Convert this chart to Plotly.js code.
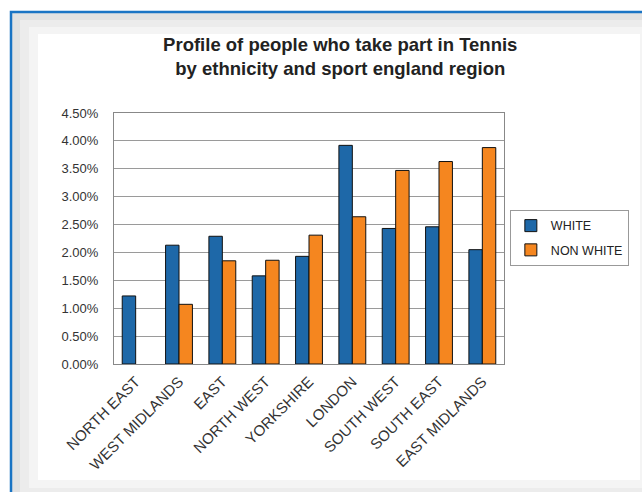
<!DOCTYPE html>
<html><head><meta charset="utf-8">
<script src="https://cdn.plot.ly/plotly-3.0.1.min.js"></script>
<style>body{margin:0;padding:0;background:#fff}#chart{width:642px;height:492px}</style>
</head><body><div id="chart"></div>
<script>
var regions = ["NORTH EAST","WEST MIDLANDS","EAST","NORTH WEST","YORKSHIRE","LONDON","SOUTH WEST","SOUTH EAST","EAST MIDLANDS"];
var white = [0.0122,0.0213,0.0229,0.0158,0.0193,0.0392,0.0243,0.0246,0.0205];
var nonWhite = [null,0.0107,0.0185,0.0186,0.0231,0.0264,0.0347,0.0363,0.0388];
var yTicks = [0,0.005,0.01,0.015,0.02,0.025,0.03,0.035,0.04,0.045];

// frame helper: pixel box -> paper coords (plot area: x 114..504, y 113..364)
function px(x){return (x-114)/390;}
function py(y){return (364-y)/251;}
function box(x0,y0,x1,y1,fill,line){
  return {type:'rect', xref:'paper', yref:'paper', x0:px(x0), x1:px(x1), y0:py(y1), y1:py(y0),
          fillcolor:fill, line:line||{width:0}, layer:'below'};
}

var traces = [
 {type:'bar', name:'WHITE', legendgroup:'a', x:regions, y:white, marker:{color:'#1e68a8', line:{color:'#111', width:1}}},
 {type:'bar', name:'NON WHITE', legendgroup:'b', x:regions, y:nonWhite, marker:{color:'#f5861f', line:{color:'#111', width:1}}}
];
var layout = {
 width:642, height:492,
 paper_bgcolor:'#ffffff', plot_bgcolor:'#ffffff',
 margin:{l:114, r:138, t:113, b:128, autoexpand:false},
 font:{family:'Liberation Sans, Arial, sans-serif', color:'#222', size:13},
 title:{text:'<b>Profile of people who take part in Tennis<br>by ethnicity and sport england region</b>', font:{size:18.5, color:'#222'}, x:0.53, xanchor:'center', y:0.897, yanchor:'middle'},
 barmode:'group', bargap:0.38, bargroupgap:0,
 xaxis:{type:'category', tickangle:-45, tickfont:{size:15, color:'#333'}, showgrid:false, showline:true, linecolor:'#888', mirror:true, ticks:'', automargin:false, ticklabelstandoff:2},
 yaxis:{range:[0,0.045], tickvals:yTicks, tickformat:'.2%', tickfont:{size:13, color:'#333'}, showgrid:true, gridcolor:'#9a9a9a', gridwidth:1, showline:true, linecolor:'#888', mirror:true, ticks:'', zeroline:false, automargin:false, ticklabelstandoff:12},
 legend:{x:1.015, xanchor:'left', y:0.502, yanchor:'middle', traceorder:'grouped', tracegroupgap:5, bgcolor:'#fff', bordercolor:'#999', borderwidth:1, font:{size:12.5, color:'#222'}},
 shapes:[
  box(12,13,660,510,'#e2e2e2'),
  box(20,20,652,496,'#ececec'),
  box(29,27,646,488,'#f4f4f4'),
  box(38,34,640,480,'#ffffff'),
  box(11,12,662,512,'rgba(0,0,0,0)',{color:'#1a74c4', width:2.5})
 ]
};
Plotly.newPlot('chart', traces, layout, {displayModeBar:false, staticPlot:true});
</script></body></html>
